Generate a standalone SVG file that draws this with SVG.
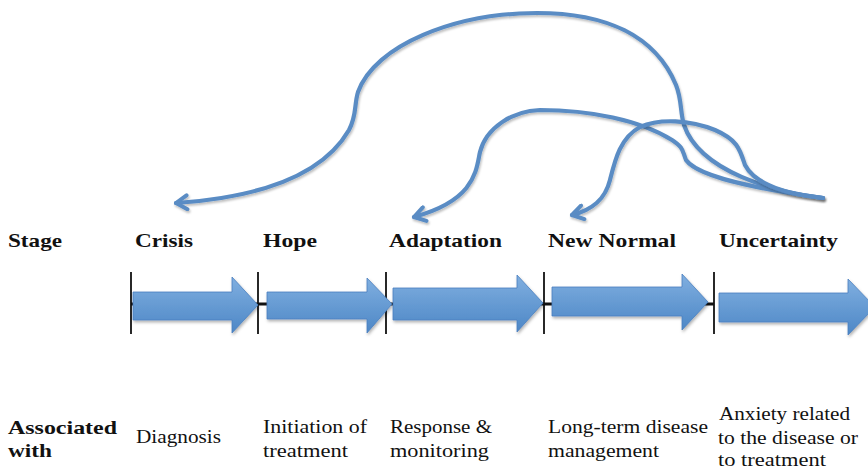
<svg xmlns="http://www.w3.org/2000/svg" width="868" height="471" viewBox="0 0 868 471">
  <style>
    .lbl { font-family: "Liberation Serif", "DejaVu Serif", serif; font-size: 19.5px; fill: #111; }
    .hd { font-weight: bold; }
    .curve { fill: none; stroke: #5a8cc4; stroke-width: 4.2; stroke-linecap: round; filter: url(#sh); }
    .blk { fill: url(#blue); stroke: #4a7fbf; stroke-width: 0.8; filter: url(#sh2); }
    .tick { stroke: #111; stroke-width: 1.8; }
  </style>
  <defs>
    <linearGradient id="blue" x1="0" y1="0" x2="0" y2="1">
      <stop offset="0" stop-color="#80afe0"/>
      <stop offset="1" stop-color="#4d87c6"/>
    </linearGradient>
    <filter id="sh" x="-10%" y="-10%" width="120%" height="130%">
      <feDropShadow dx="1" dy="2" stdDeviation="1.2" flood-color="#000" flood-opacity="0.25"/>
    </filter>
    <filter id="sh2" x="-10%" y="-20%" width="120%" height="150%">
      <feDropShadow dx="1" dy="2" stdDeviation="1.5" flood-color="#000" flood-opacity="0.3"/>
    </filter>
    <marker id="chev" viewBox="-14 -9 16 18" markerWidth="16" markerHeight="18" refX="0" refY="0" orient="auto" markerUnits="userSpaceOnUse">
      <path d="M-11,-7 L0,0 L-11,7" fill="none" stroke="#5a8cc4" stroke-width="4" stroke-linecap="round" stroke-linejoin="round"/>
    </marker>
  </defs>

  <!-- timeline baseline and stage boundaries -->
  <g id="timeline">
    <line x1="131" y1="304" x2="714" y2="304" stroke="#111" stroke-width="3"/>
    <line class="tick" x1="131" y1="272" x2="131" y2="334"/>
    <line class="tick" x1="258" y1="272" x2="258" y2="334"/>
    <line class="tick" x1="386" y1="272" x2="386" y2="334"/>
    <line class="tick" x1="544" y1="272" x2="544" y2="334"/>
    <line class="tick" x1="714" y1="272" x2="714" y2="334"/>
  </g>

  <!-- stage block arrows -->
  <g id="arrow-crisis"><path class="blk" d="M133,292 H232 V277 L258,305 L232,333 V320 H133 Z"/></g>
  <g id="arrow-hope"><path class="blk" d="M267,292 H367 V278 L392,304 L367,333 V319 H267 Z"/></g>
  <g id="arrow-adaptation"><path class="blk" d="M393,288 H517 V275 L543,303 L517,332 V320 H393 Z"/></g>
  <g id="arrow-newnormal"><path class="blk" d="M552,287 H682 V274 L708,302 L682,330 V316 H552 Z"/></g>
  <g id="arrow-uncertainty"><path class="blk" d="M719,293 H848 V279 L875,307 L848,335 V322 H719 Z"/></g>

  <!-- return paths from Uncertainty -->
  <g id="connectors">
    <path class="curve" marker-end="url(#chev)" d="M823,198 C775,192 700,172 684,125 C680,112 682,100 676,85 C655,35 605,13 537,13 C455,13 375,45 358,92 C354,105 357,115 349,130 C320,180 250,198 176,203"/>
    <path class="curve" marker-end="url(#chev)" d="M823,198 C780,192 700,180 686,160 C682,150 684,148 672,140 C640,120 590,110 540,110 C512,111 486,128 480,152 C476,170 476,200 414,217"/>
    <path class="curve" marker-end="url(#chev)" d="M823,198 C790,195 755,185 745,165 C740,150 738,140 715,130 C690,120 660,118 640,127 C620,138 615,160 610,180 C605,200 592,210 572,215"/>
  </g>

  <!-- stage names -->
  <g id="stage-row">
    <text class="lbl hd" x="8" y="247" textLength="54" lengthAdjust="spacingAndGlyphs">Stage</text>
    <text class="lbl hd" x="135" y="247" textLength="58" lengthAdjust="spacingAndGlyphs">Crisis</text>
    <text class="lbl hd" x="263" y="247" textLength="54" lengthAdjust="spacingAndGlyphs">Hope</text>
    <text class="lbl hd" x="389" y="247" textLength="113" lengthAdjust="spacingAndGlyphs">Adaptation</text>
    <text class="lbl hd" x="548" y="247" textLength="128" lengthAdjust="spacingAndGlyphs">New Normal</text>
    <text class="lbl hd" x="719" y="247" textLength="119" lengthAdjust="spacingAndGlyphs">Uncertainty</text>
  </g>

  <!-- associated events -->
  <g id="assoc-row">
    <text class="lbl hd" x="8" y="434" textLength="109" lengthAdjust="spacingAndGlyphs">Associated</text>
    <text class="lbl hd" x="8" y="457" textLength="44" lengthAdjust="spacingAndGlyphs">with</text>
    <text class="lbl" x="136" y="443" textLength="85" lengthAdjust="spacingAndGlyphs">Diagnosis</text>
    <text class="lbl" x="263" y="433" textLength="104" lengthAdjust="spacingAndGlyphs">Initiation of</text>
    <text class="lbl" x="263" y="457" textLength="85" lengthAdjust="spacingAndGlyphs">treatment</text>
    <text class="lbl" x="390" y="433" textLength="102" lengthAdjust="spacingAndGlyphs">Response &amp;</text>
    <text class="lbl" x="390" y="457" textLength="99" lengthAdjust="spacingAndGlyphs">monitoring</text>
    <text class="lbl" x="548" y="433" textLength="160" lengthAdjust="spacingAndGlyphs">Long-term disease</text>
    <text class="lbl" x="548" y="457" textLength="111" lengthAdjust="spacingAndGlyphs">management</text>
    <text class="lbl" x="719" y="420" textLength="131" lengthAdjust="spacingAndGlyphs">Anxiety related</text>
    <text class="lbl" x="718" y="444" textLength="140" lengthAdjust="spacingAndGlyphs">to the disease or</text>
    <text class="lbl" x="718" y="466" textLength="108" lengthAdjust="spacingAndGlyphs">to treatment</text>
  </g>
</svg>
